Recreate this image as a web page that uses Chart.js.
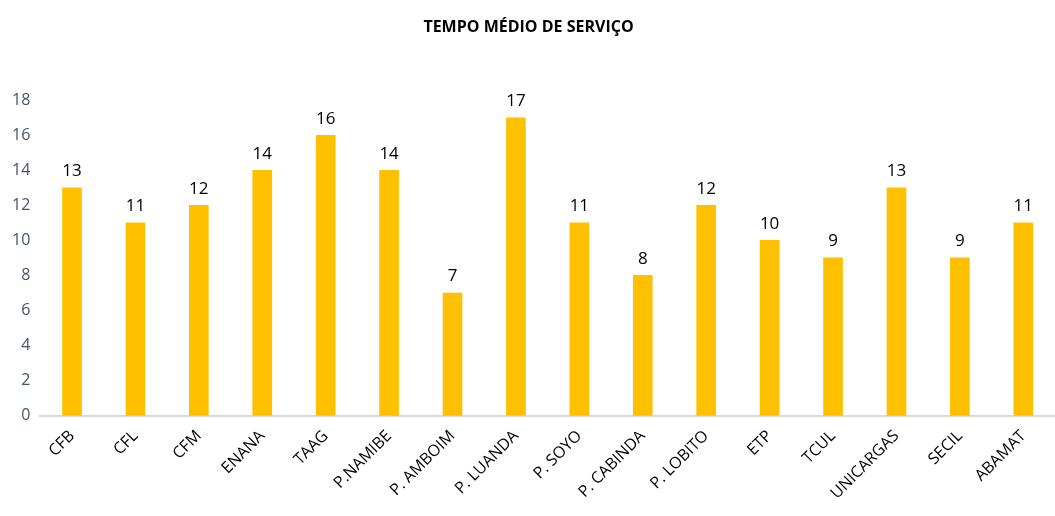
<!DOCTYPE html>
<html>
<head>
<meta charset="utf-8">
<script src="https://cdn.jsdelivr.net/npm/chart.js@4"></script>
<style>
  html, body { margin: 0; padding: 0; background: #fff; }
  #wrap { width: 1055px; height: 516px; }
</style>
</head>
<body>
<div id="wrap"><canvas id="tempoChart"></canvas></div>
<script>
// categories and values
const empresas = ['CFB', 'CFL', 'CFM', 'ENANA', 'TAAG', 'P.NAMIBE', 'P. AMBOIM', 'P. LUANDA',
                  'P. SOYO', 'P. CABINDA', 'P. LOBITO', 'ETP', 'TCUL', 'UNICARGAS', 'SECIL', 'ABAMAT'];
const tempoMedio = [13, 11, 12, 14, 16, 14, 7, 17, 11, 8, 12, 10, 9, 13, 9, 11];
const yTicks = [0, 2, 4, 6, 8, 10, 12, 14, 16, 18];

const fontFamily = '"Open Sans", Lato, sans-serif';

// simple plugin to write the value above each bar
const valueLabels = {
    id: 'valueLabels',
    afterDatasetsDraw(chart) {
        const ctx = chart.ctx;
        const meta = chart.getDatasetMeta(0);
        ctx.save();
        ctx.font = '17px ' + fontFamily;
        ctx.fillStyle = '#000';
        ctx.textAlign = 'center';
        ctx.textBaseline = 'bottom';
        meta.data.forEach((bar, i) => {
            ctx.fillText(tempoMedio[i], bar.x, bar.y - 8);
        });
        ctx.restore();
    }
};

const ctx = document.getElementById('tempoChart').getContext('2d');
new Chart(ctx, {
    type: 'bar',
    data: {
        labels: empresas,
        datasets: [{
            label: 'Tempo médio',
            data: tempoMedio,
            backgroundColor: '#FFC000',
            borderWidth: 0,
            barThickness: 19
        }]
    },
    options: {
        responsive: true,
        maintainAspectRatio: false,
        animation: false,
        layout: {
            padding: { top: 10, left: 2, right: 0, bottom: 2 }
        },
        scales: {
            y: {
                min: 0,
                max: 18,
                afterBuildTicks: axis => { axis.ticks = yTicks.map(v => ({ value: v })); },
                grid: { display: false, drawTicks: false },
                border: { display: false },
                ticks: {
                    color: '#44546A',
                    font: { family: fontFamily, size: 16 },
                    padding: 10
                }
            },
            x: {
                grid: { display: false, drawTicks: false },
                border: { display: true, color: '#D9D9D9', width: 2 },
                ticks: {
                    color: '#000',
                    font: { family: fontFamily, size: 16 },
                    minRotation: 45,
                    maxRotation: 45,
                    padding: 11,
                    autoSkip: false
                }
            }
        },
        plugins: {
            legend: { display: false },
            tooltip: { enabled: false },
            title: {
                display: true,
                text: 'TEMPO MÉDIO DE SERVIÇO',
                color: '#000',
                font: { family: fontFamily, size: 16, weight: 'bold' },
                padding: { top: 8, bottom: 63 }
            }
        }
    },
    plugins: [valueLabels]
});
</script>
</body>
</html>
